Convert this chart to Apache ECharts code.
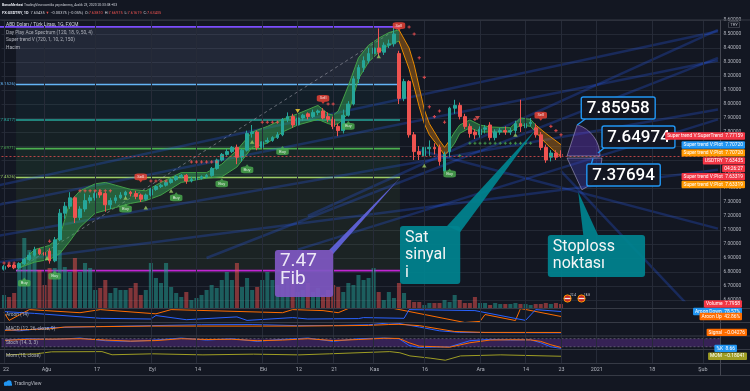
<!DOCTYPE html>
<html>
<head>
<meta charset="utf-8">
<script src="https://cdn.jsdelivr.net/npm/echarts@6.0.0/dist/echarts.min.js"></script>
<style>
html,body{margin:0;padding:0;background:#131722;overflow:hidden}
#c{width:750px;height:391px}
</style>
</head>
<body>
<div id="c"></div>
<script>
// ---------- categories: trading days ----------
function weekdays(from, to){
  const out=[]; const d=new Date(from+'T00:00:00Z'); const end=new Date(to+'T00:00:00Z');
  while(d<=end){ const w=d.getUTCDay(); if(w!==0&&w!==6) out.push(d.toISOString().slice(0,10)); d.setUTCDate(d.getUTCDate()+1); }
  return out;
}
const dates = weekdays('2020-07-22','2021-02-04');
const tickDates  = ['2020-07-22','2020-08-03','2020-08-17','2020-09-01','2020-09-14','2020-10-01','2020-10-12','2020-10-21','2020-11-02','2020-11-16','2020-12-01','2020-12-14','2020-12-23','2021-01-01','2021-01-18','2021-02-01'];
const tickLabels = ['22','Ağu','17','Eyl','14','Eki','12','21','Kas','16','Ara','14','23','2021','18','Şub'];

// ---------- price candles [open, close, low, high] ----------
const candles = [
[6.82,6.84,6.81,6.85],[6.85,6.84,6.83,6.86],[6.85,6.83,6.82,6.86],[6.83,6.86,6.82,6.87],[6.86,6.89,6.85,6.90],
[6.89,6.92,6.88,6.94],[6.92,6.96,6.91,6.98],[6.96,6.93,6.92,6.97],[6.94,6.92,6.90,6.97],[6.95,6.88,6.86,6.97],
[6.88,7.03,6.87,7.05],[7.03,7.22,7.02,7.25],[7.22,7.27,7.18,7.30],[7.27,7.33,7.25,7.37],[7.33,7.19,7.15,7.34],
[7.19,7.25,7.17,7.27],[7.25,7.31,7.23,7.36],[7.31,7.33,7.29,7.35],[7.33,7.36,7.31,7.38],[7.37,7.35,7.33,7.39],
[7.36,7.28,7.23,7.37],[7.28,7.31,7.25,7.33],[7.31,7.33,7.29,7.35],[7.33,7.35,7.32,7.37],[7.35,7.37,7.33,7.38],
[7.37,7.36,7.34,7.38],[7.36,7.34,7.32,7.38],[7.35,7.32,7.30,7.36],[7.32,7.35,7.31,7.36],[7.35,7.39,7.34,7.40],
[7.39,7.41,7.38,7.42],[7.41,7.42,7.40,7.43],[7.42,7.44,7.41,7.45],[7.44,7.46,7.43,7.47],[7.46,7.48,7.45,7.49],
[7.48,7.49,7.47,7.50],[7.49,7.45,7.43,7.50],[7.45,7.46,7.44,7.48],[7.46,7.47,7.45,7.48],[7.47,7.48,7.46,7.49],
[7.48,7.49,7.47,7.50],[7.49,7.54,7.48,7.55],[7.54,7.60,7.53,7.61],[7.60,7.64,7.59,7.65],[7.64,7.66,7.63,7.68],
[7.66,7.69,7.65,7.70],[7.69,7.62,7.57,7.71],[7.62,7.67,7.59,7.68],[7.67,7.79,7.66,7.81],[7.79,7.80,7.76,7.85],
[7.80,7.69,7.67,7.81],[7.69,7.73,7.68,7.75],[7.73,7.74,7.72,7.76],[7.74,7.76,7.73,7.77],[7.76,7.78,7.75,7.80],
[7.78,7.89,7.77,7.90],[7.89,7.91,7.87,7.94],[7.91,7.85,7.83,7.93],[7.85,7.90,7.84,7.91],[7.90,7.92,7.88,7.93],
[7.93,7.91,7.89,7.94],[7.91,7.94,7.90,7.96],[7.94,7.95,7.92,7.96],[7.95,7.90,7.89,7.97],[7.91,7.89,7.87,7.94],
[7.89,7.84,7.82,7.91],[7.84,7.81,7.77,7.86],[7.81,7.92,7.79,7.96],[7.92,8.00,7.91,8.02],[8.00,8.18,7.99,8.20],
[8.18,8.26,8.15,8.28],[8.26,8.31,8.23,8.34],[8.31,8.36,8.29,8.40],[8.36,8.40,8.33,8.44],[8.40,8.37,8.34,8.54],
[8.37,8.42,8.35,8.44],[8.42,8.43,8.40,8.46],[8.43,8.50,8.41,8.55],[8.36,8.04,8.00,8.38],[8.04,8.16,8.02,8.18],
[8.16,7.78,7.76,8.17],[7.78,7.66,7.60,7.80],[7.66,7.64,7.60,7.70],[7.63,7.69,7.58,7.72],[7.68,7.69,7.63,7.74],
[7.69,7.68,7.64,7.72],[7.69,7.59,7.56,7.71],[7.52,7.64,7.50,7.66],[7.66,7.97,7.62,7.98],[7.97,7.99,7.93,8.03],
[7.99,7.91,7.89,8.01],[7.91,7.84,7.82,7.93],[7.84,7.79,7.76,7.86],[7.80,7.78,7.75,7.82],[7.78,7.82,7.76,7.84],
[7.82,7.83,7.79,7.85],[7.85,7.76,7.74,7.87],[7.76,7.80,7.74,7.82],[7.80,7.81,7.78,7.83],[7.81,7.80,7.78,7.84],
[7.80,7.81,7.78,7.83],[7.81,7.86,7.79,7.88],[7.86,7.84,7.80,8.03],[7.83,7.86,7.81,7.88],[7.86,7.87,7.84,7.90],
[7.83,7.78,7.76,7.86],[7.78,7.69,7.67,7.80],[7.69,7.60,7.58,7.71],[7.62,7.65,7.59,7.67],[7.65,7.62,7.60,7.67],
[7.6381,7.63435,7.61619,7.66975]
];
// relative volume (bar heights)
const volumes = [13,11,15,41,70,58,55,38,23,40, 40,58,41,36,50,36,45,40,18,20, 28,15,20,18,18,20,25,13,18,45,
 30,25,45,21,15,11,16,8,10,13, 18,23,20,28,36,28,45,21,30,18, 21,28,36,28,23,33,28,25,16,18,
 25,16,20,13,18,23,21,16,25,23, 33,28,30,40,16,8,16,10,25,15, 8,6,6,3,5,5,5,8,6,13,
 8,5,5,11,5,5,3,5,4,4, 4,5,4,4,3,4,4,5,4,5,4];

// ---------- Fibonacci retracement ----------
const fibLevels = [8.551, 8.139, 7.886, 7.681, 7.475, 6.81];
const fibLineColors = ['#7c4dff','#64b5f6','#26a69a','#4caf50','#9ccc65','#c026d3'];
const fibFills = ['rgba(120,130,170,0.16)','rgba(38,166,154,0.06)','rgba(76,175,80,0.07)','rgba(76,175,80,0.11)','rgba(139,195,74,0.07)'];
const fibLabels = ['', '(8.1526)', '(7.8417)', '(7.6971)', '(7.4526)', ''];
const fibStart = 2.37, fibEnd = 78.2, fibTopStart = -1;

// ---------- ribbon (Day Play Ace Spectrum) ----------
const ribbonX   = [3,6,9,11,13,15,18,20,22,25, 28,31,35,40,43,46,49,52,55,58, 62,64,65,66,68,70,72,74,76,78, 80,81,82,83,84,86,87,88, 89,90,92,94,96,100,102,104,105, 107,110];
const ribbonUp  = [6.85,6.96,6.99,7.05,7.30,7.38,7.43,7.44,7.42,7.39, 7.38,7.44,7.51,7.51,7.57,7.67,7.80,7.84,7.89,7.93, 7.99,7.93,7.92,7.95,8.13,8.33,8.42,8.47,8.51,8.53, 8.40,8.28,8.12,7.96,7.86,7.74,7.69,7.74, 7.80,7.85,7.886,7.85,7.836,7.83,7.90,7.89,7.85, 7.79,7.71];
const ribbonLow = [6.83,6.87,6.89,6.93,7.02,7.12,7.22,7.24,7.26,7.29, 7.31,7.35,7.44,7.47,7.48,7.55,7.69,7.72,7.80,7.85, 7.89,7.86,7.85,7.86,7.93,8.18,8.30,8.37,8.42,8.45, 8.25,8.12,7.98,7.86,7.78,7.686,7.636,7.67, 7.72,7.79,7.83,7.80,7.80,7.80,7.85,7.84,7.80, 7.72,7.62];
const ribbonTrend = [[3,'g'],[78,'o'],[88,'g'],[105,'o']];

// ---------- signals ----------
const buySignals  = [[4,6.72],[10,6.77],[24,7.25],[34,7.33],[43,7.43],[48,7.53],[55,7.66],[68,7.84],[88,7.50]];
const sellSignals = [[27,7.48],[63,8.04],[78,8.56],[106,7.92]];
const upTriangles = [[8.5,6.90],[24,7.33],[28,7.26],[33,7.38],[49,7.73],[74,8.34],[83,7.56],[101,7.78]];
const yellowDown = [[58,7.95]];
const redDown = [[93.5,7.90]];
const redCrosses = [[0,6.864],[1,6.864],[2,6.864],[9,7.02],[15,7.38],[16,7.38],[17,7.38],[18,7.38],[19,7.38],[20,7.38],[21,7.38],
 [29,7.45],[30,7.45],[31,7.45],[32,7.45],[37,7.586],[38,7.586],[39,7.586],[40,7.586],[41,7.586],[42,7.586],
 [51,7.87],[52,7.87],[53,7.87],[54,7.87],[64,8.0],[65,8.0],[80,8.55],[81,8.5],[82,8.33],[83,8.19],[84,7.98],[85,7.91],[86,7.95],[87,7.87],
 [93,7.89],[108,7.84],[109,7.81],[110,7.78]];
const greenCrosses = [[90,7.63],[92,7.72],[93,7.72],[94,7.72],[95,7.72],[96,7.72],[97,7.72],[98,7.72],[99,7.72],[100,7.72],[101,7.72],[102,7.72],[103,7.72],[104,7.72]];

// ---------- drawn fan lines [i0, p0, i1, p1] ----------
const fanLines = [[-1,7.28,141,8.31],[-1,7.06,141,7.96],[-1,6.87,141,7.53],[-1,7.42,141,8.52],[58,6.96,141,7.89],[60,7.2,141,8.53],[40,6.9,141,8.33],[82,7.67,141,7.11],[110,7.52,138,6.45]];

// ---------- indicator panes (sparse points [index, value]) ----------
const aroonUp   = [[0,70],[1,15],[5,92],[15,70],[19,92],[30,62],[33,92],[55,70],[57,92],[63,85],[66,70],[68,100],[77,100],[91,0],[94,8],[95,57],[101,14],[102,100],[110,42.86]];
const aroonDown = [[0,78],[6,65],[19,30],[29,25],[30,50],[36,20],[46,40],[48,15],[57,35],[60,25],[70,28],[71,35],[79,30],[80,92],[93,85],[103,15],[105,92],[110,78.57]];
const macdLine  = [[0,0.08],[3,0.03],[9,0.17],[19,0.22],[29,0.26],[39,0.3],[49,0.31],[58,0.26],[66,0.27],[72,0.3],[76,0.38],[78,0.36],[82,0.2],[86,0.03],[90,-0.04],[98,-0.05],[110,-0.06]];
const signalLine= [[0,0.05],[9,0.12],[12,0.2],[29,0.24],[58,0.24],[72,0.27],[76,0.31],[78,0.32],[82,0.26],[89,0.0],[95,-0.04],[110,-0.043]];
const stochK = [[0,70],[5,80],[10,75],[15,85],[20,65],[25,60],[30,70],[35,85],[40,70],[45,80],[50,60],[55,75],[60,85],[65,60],[70,80],[75,85],[78,80],[80,30],[82,15],[88,20],[92,65],[96,75],[100,70],[104,72],[106,50],[108,20],[110,8.66]];
const stochD = [[0,68],[5,76],[10,77],[15,80],[20,70],[25,62],[30,66],[35,80],[40,74],[45,76],[50,65],[55,70],[60,80],[65,66],[70,74],[75,83],[78,82],[80,50],[82,25],[88,17],[92,50],[96,70],[100,72],[104,71],[106,60],[108,35],[110,15]];
const momLine = [[0,-0.06],[6,0.03],[9,0.2],[19,0.22],[21,-0.05],[29,0.03],[39,-0.06],[49,0.0],[58,-0.06],[64,0.03],[76,0.22],[78,0.12],[80,-0.15],[84,-0.34],[87,-0.52],[90,-0.15],[98,-0.06],[110,-0.18]];

// ---------- right-side value tags ----------
const tagNames  = ['Super trend V:SuperTrend','Super trend V:Plot','Super trend V:Plot','USDTRY','','Super trend V:Plot','Super trend V:Plot'];
const tagValues = [7.77159, 7.70720, 7.70720, 7.63435, 7.63435, 7.63319, 7.63319];
const tagTexts  = ['7.77159','7.70720','7.70720','7.63435','04:26:27','7.63319','7.63319'];
const tagColors = ['#f23645','#2196f3','#ff9800','#f23645','#f23645','#f23645','#ff9800'];

// ---------- annotations (data coordinates) ----------
const notes = [
  {lines:['7.47','Fib'], box:[53.5,6.957,65.0,6.621], tip:[78.2,7.471], base:[[64.2,6.957],[65.0,6.929]], fill:'rgba(126,87,194,0.93)', tail:'#5c5fd0', font:19, lh:18.5, dy:1.8, tc:'#ede7f6'},
  {lines:['Sat','sinyal','i'], box:[78.2,7.129,90.1,6.714], tip:[105.1,7.821], base:[[87.5,7.129],[90.1,7.086]], fill:'rgba(0,131,143,0.93)', tail:'rgba(0,131,143,0.93)', font:16, lh:17.5, dy:3.3, tc:'#f5f5f5'},
  {lines:['Stoploss','noktası'], box:[107.4,7.064,126.6,6.764], tip:[113.4,7.371], base:[[114.4,7.064],[117.3,7.064]], fill:'rgba(0,131,143,0.93)', tail:'rgba(0,131,143,0.93)', font:16, lh:17, dy:3.5, tc:'#f5f5f5'}
];
const priceNotes = [
  {text:'7.85958', box:[114.0,8.05,128.6,7.893], tip:[113.2,7.85], from:[114.8,7.893]},
  {text:'7.64974', box:[118.1,7.843,132.5,7.686], tip:[117.3,7.65], from:[118.5,7.686]},
  {text:'7.37694', box:[115.1,7.571,129.6,7.414], tip:[116.3,7.61], from:[116.0,7.571]}
];
const wedges = [
  {c:[111.2,7.629], e:[117.7,7.629], a:[-72,0], fill:'rgba(94,53,177,0.45)'},
  {c:[111.2,7.614], e:[118.1,7.614], a:[0,65], fill:'rgba(63,60,170,0.38)'}
];

// =====================================================================
const chart = echarts.init(document.getElementById('c'));
const N = dates.length;
const L = 1.5, R = 29.5;
const FONT = 'Roboto';
const tickMap = new Map(tickDates.map((d,i)=>[d,tickLabels[i]]));

const grids = [
  {left:L, right:R, top:20, height:343.5},
  {left:L, right:R, top:20, height:280},
  {left:L, right:R, top:20, height:288},
  {left:L, right:R, top:308.5, height:14},
  {left:L, right:R, top:322.5, height:13.5},
  {left:L, right:R, top:336, height:13.5},
  {left:L, right:R, top:349.5, height:14}
];
const xAxes = [];
for (let g=0; g<7; g++) xAxes.push({type:'category', gridIndex:g, data:dates, boundaryGap:true,
  axisLine:{show:false}, axisTick:{show:false}, splitLine:{show:false}, axisLabel:{show:false}});
xAxes[6].axisLabel = {show:true, interval:(i,v)=>tickMap.has(v), formatter:(v)=>tickMap.get(v)||'',
  color:'#b2b5be', fontSize:5.4, fontFamily:FONT, margin:4};
xAxes.push({type:'value', gridIndex:1, min:-0.5, max:N-0.5, show:false}); // 7
xAxes.push({type:'value', gridIndex:5, min:-0.5, max:N-0.5, show:false}); // 8

const yAxes = [
  {type:'value', gridIndex:0, min:0, max:1, show:false},
  {type:'value', gridIndex:1, position:'right', min:6.6, max:8.6, interval:0.1,
    axisLine:{show:false}, axisTick:{show:false},
    axisLabel:{formatter:v=>v.toFixed(5), color:'#b2b5be', fontSize:4.9, fontFamily:FONT, margin:3},
    splitLine:{lineStyle:{color:'#242935', width:1}}},
  {type:'value', gridIndex:2, min:0, max:288, show:false},
  {type:'value', gridIndex:3, min:0, max:100, show:false},
  {type:'value', gridIndex:4, min:-0.2, max:0.4, show:false},
  {type:'value', gridIndex:5, min:0, max:100, show:false},
  {type:'value', gridIndex:6, min:-0.8, max:0.4, show:false}
];

const S = [];
// vertical grid lines at tick dates
S.push({type:'line', xAxisIndex:0, yAxisIndex:0, data:[[0,0.5]], symbol:'none', lineStyle:{opacity:0}, silent:true, z:0.5,
  markLine:{silent:true, symbol:'none', label:{show:false}, lineStyle:{color:'#262b38', width:1, type:'solid'},
    data: tickDates.map(d=>({xAxis:d}))}});

// fib bands & lines
S.push({type:'custom', xAxisIndex:7, yAxisIndex:1, z:1, silent:true,
  data: fibLevels.map((v,k)=>[k,v]),
  renderItem:(params, api)=>{
    const k = api.value(0);
    const s = api.coord([fibStart, fibLevels[k]]);
    const e = api.coord([fibEnd, fibLevels[k]]);
    const s0 = api.coord([k===0?fibTopStart:fibStart, fibLevels[k]]);
    const ch = [];
    if (k < fibLevels.length-1){
      const yb = api.coord([fibEnd, fibLevels[k+1]])[1];
      ch.push({type:'rect', shape:{x:s[0], y:s[1], width:e[0]-s[0], height:yb-s[1]}, style:{fill:fibFills[k]}});
    }
    ch.push({type:'line', shape:{x1:s0[0], y1:s[1], x2:e[0], y2:s[1]}, style:{stroke:fibLineColors[k], lineWidth:1.6}});
    return {type:'group', children:ch};
  }});
// fib trend (dashed diagonal)
S.push({type:'line', xAxisIndex:7, yAxisIndex:1, z:1.2, silent:true, symbol:'none',
  data:[[fibStart, fibLevels[5]],[fibEnd, fibLevels[0]]], lineStyle:{color:'rgba(170,170,180,0.55)', width:1, type:[3,3]}});
// fan lines
fanLines.forEach(f=>S.push({type:'line', xAxisIndex:7, yAxisIndex:1, z:1.3, silent:true, symbol:'none',
  data:[[f[0],f[1]],[f[2],f[3]]], lineStyle:{color:'rgba(41,98,255,0.26)', width:2.5}}));

// volume
S.push({type:'bar', xAxisIndex:2, yAxisIndex:2, z:2, silent:true, barWidth:'80%',
  data: volumes.map((v,i)=>({value:v, itemStyle:{color: candles[i][1]>=candles[i][0] ? 'rgba(38,166,154,0.5)' : 'rgba(239,83,80,0.5)'}}))});

// ribbon runs
const ribbonRuns = ribbonTrend.map((t,c)=>{
  const endX = c+1<ribbonTrend.length ? ribbonTrend[c+1][0] : Infinity;
  const idxs = ribbonX.map((x,i)=>i).filter(i=>ribbonX[i]>=t[0] && ribbonX[i]<=endX);
  return {idxs, col:t[1]};
});
S.push({type:'custom', xAxisIndex:7, yAxisIndex:1, z:3, silent:true,
  data: ribbonRuns.map((r,k)=>[k, 7.5]),
  renderItem:(params, api)=>{
    const run = ribbonRuns[api.value(0)];
    const up = run.idxs.map(i=>api.coord([ribbonX[i], ribbonUp[i]]));
    const lo = run.idxs.map(i=>api.coord([ribbonX[i], ribbonLow[i]]));
    const green = run.col==='g';
    const fill = green ? 'rgba(56,170,90,0.45)' : 'rgba(200,120,20,0.42)';
    const stroke = green ? '#43a047' : '#e68a00';
    return {type:'group', children:[
      {type:'polygon', shape:{points: up.concat(lo.slice().reverse())}, style:{fill}},
      {type:'polyline', shape:{points: up}, style:{stroke, lineWidth:1, fill:null}},
      {type:'polyline', shape:{points: lo}, style:{stroke, lineWidth:1, fill:null}}
    ]};
  }});

// candles
S.push({type:'candlestick', xAxisIndex:1, yAxisIndex:1, z:4, silent:true, barWidth:'64%', data:candles,
  itemStyle:{color:'#26a69a', color0:'#ef5350', borderColor:'#26a69a', borderColor0:'#ef5350', borderWidth:1},
  markLine:{silent:true, symbol:'none', label:{show:false}, lineStyle:{color:'#ef5350', type:[2,2], width:1, opacity:0.75},
    data:[{yAxis:candles[candles.length-1][1]}]}});

// markers
const crossPath = 'path://M1,0H2V1H3V2H2V3H1V2H0V1H1Z';
S.push({type:'scatter', xAxisIndex:7, yAxisIndex:1, z:5, silent:true, data:redCrosses, symbol:crossPath, symbolSize:3.2, itemStyle:{color:'#ff5252'}});
S.push({type:'scatter', xAxisIndex:7, yAxisIndex:1, z:5, silent:true, data:greenCrosses, symbol:crossPath, symbolSize:3, itemStyle:{color:'#4caf50'}});
S.push({type:'scatter', xAxisIndex:7, yAxisIndex:1, z:5, silent:true, data:upTriangles, symbol:'triangle', symbolSize:[4.5,3.8], itemStyle:{color:'#9ccc65'}});
S.push({type:'scatter', xAxisIndex:7, yAxisIndex:1, z:5, silent:true, data:yellowDown, symbol:'triangle', symbolRotate:180, symbolSize:[5,4], itemStyle:{color:'#fdd835'}});
S.push({type:'scatter', xAxisIndex:7, yAxisIndex:1, z:5, silent:true, data:redDown, symbol:'triangle', symbolRotate:180, symbolSize:[5,4], itemStyle:{color:'#ef5350'}});
S.push({type:'scatter', xAxisIndex:7, yAxisIndex:1, z:6, silent:true, data:buySignals, symbol:'triangle', symbolSize:[4,2.6], symbolOffset:[0,-4.3], itemStyle:{color:'#4caf50'}});
S.push({type:'scatter', xAxisIndex:7, yAxisIndex:1, z:6, silent:true, data:buySignals, symbol:'roundRect', symbolSize:[12.5,6.8], itemStyle:{color:'#4caf50'},
  label:{show:true, position:'inside', formatter:'Buy', color:'#ffffff', fontSize:4.2, fontFamily:FONT}});
S.push({type:'scatter', xAxisIndex:7, yAxisIndex:1, z:6, silent:true, data:sellSignals, symbol:'triangle', symbolRotate:180, symbolSize:[4,2.6], symbolOffset:[0,4.3], itemStyle:{color:'#f44336'}});
S.push({type:'scatter', xAxisIndex:7, yAxisIndex:1, z:6, silent:true, data:sellSignals, symbol:'roundRect', symbolSize:[12.5,6.8], itemStyle:{color:'#f44336'},
  label:{show:true, position:'inside', formatter:'Sell', color:'#ffffff', fontSize:4.2, fontFamily:FONT}});

// panes
const paneLine = (xi, yi, data, color) => ({type:'line', xAxisIndex:xi, yAxisIndex:yi, data, symbol:'none', silent:true, z:3, lineStyle:{color, width:1}});
S.push(paneLine(3,3,aroonUp,'#ff6d00'));
S.push(paneLine(3,3,aroonDown,'#2962ff'));
S.push(paneLine(4,4,macdLine,'#2962ff'));
S.push(paneLine(4,4,signalLine,'#ff6d00'));
S.push({type:'custom', xAxisIndex:8, yAxisIndex:5, z:1, silent:true, data:[[0,50]],
  renderItem:(params, api)=>{
    const a = api.coord([-0.5,80]), b = api.coord([N-0.5,20]);
    return {type:'group', children:[
      {type:'rect', shape:{x:a[0], y:a[1], width:b[0]-a[0], height:b[1]-a[1]}, style:{fill:'rgba(126,58,190,0.33)'}},
      {type:'line', shape:{x1:a[0], y1:a[1], x2:b[0], y2:a[1]}, style:{stroke:'rgba(170,170,180,0.5)', lineWidth:0.8, lineDash:[2,2]}},
      {type:'line', shape:{x1:a[0], y1:b[1], x2:b[0], y2:b[1]}, style:{stroke:'rgba(170,170,180,0.5)', lineWidth:0.8, lineDash:[2,2]}}
    ]};
  }});
S.push(paneLine(5,5,stochK,'#2962ff'));
S.push(paneLine(5,5,stochD,'#ff6d00'));
S.push(paneLine(6,6,momLine,'#9e9d24'));

chart.setOption({animation:false, backgroundColor:'#131722', grid:grids, xAxis:xAxes, yAxis:yAxes, series:S});

// ---------------- graphic overlays ----------------
const P = (i,p)=>chart.convertToPixel({xAxisIndex:7, yAxisIndex:1}, [i,p]);
const els = [];
const T = (x,y,text,style,z)=>({type:'text', x, y, z:z||100, silent:true,
  style:Object.assign({text, fill:'#d1d4dc', font:'4.8px '+FONT, verticalAlign:'middle', align:'left'}, style||{})});

// header
els.push(T(2,5.5,'{b|BorsaMerkezi} TradingView.com\'da yayınlanmış, Aralık 23, 2020 20:33:38 +03',
  {font:'3.4px '+FONT, rich:{b:{fontWeight:'bold', fontSize:3.4, fontFamily:FONT, fill:'#e0e3eb'}}}));
els.push(T(2,13.5,'{w|FX:USDTRY, 1D}  7.63435 {r|▼} −0.00375 (−0.05%)  O:{r|7.63810}  H:{r|7.66975}  L:{r|7.61619}  C:{r|7.63435}',
  {font:'3.9px '+FONT, rich:{w:{fontWeight:'bold', fontSize:3.9, fontFamily:FONT, fill:'#e0e3eb'}, r:{fontSize:3.9, fontFamily:FONT, fill:'#ef5350'}}}));
// legends
els.push(T(6,25,'ABD Doları / Türk Lirası, 1G, FXCM',{fill:'#d1d4dc'}));
els.push(T(6,32.5,'Day Play Ace Spectrum (120, 18, 9, 50, 4)',{fill:'#b2b5be'}));
els.push(T(6,40,'Super trend V (720, 1, 10, 2, 150)',{fill:'#b2b5be'}));
els.push(T(6,47.5,'Hacim',{fill:'#b2b5be'}));
els.push(T(6,315,'Aroon (14)',{fill:'#b2b5be'}));
els.push(T(6,329,'MACD (12, 26, close, 9)',{fill:'#b2b5be'}));
els.push(T(6,342.5,'Stoch (14, 3, 3)',{fill:'#b2b5be'}));
els.push(T(6,356,'Mom (10, close)',{fill:'#b2b5be'}));
// fib labels
fibLevels.forEach((v,k)=>{ if (fibLabels[k]) els.push(T(15.5, P(0,v)[1]-0.5, fibLabels[k], {align:'right', fill:fibLineColors[k], font:'4.4px '+FONT}, 60)); });

// separators and axis border
[20, 308.5, 322.5, 336, 349.5, 363.5, 375.5].forEach(y=>els.push({type:'line', z:50, silent:true, shape:{x1:0,y1:y,x2:750,y2:y}, style:{stroke:'#363a45', lineWidth:1}}));
els.push({type:'line', z:50, silent:true, shape:{x1:720.5,y1:20,x2:720.5,y2:375.5}, style:{stroke:'#434651', lineWidth:1}});
els.push(T(734,24.8,'TRY',{align:'center', font:'4.3px '+FONT, fill:'#b2b5be', borderColor:'#5d606b', borderWidth:0.6, padding:[0.8,1.5,0.4,1.5], borderRadius:1, backgroundColor:'#131722'},105));

// wedges
wedges.forEach(w=>{
  const c = P(w.c[0], w.c[1]), e = P(w.e[0], w.e[1]);
  const r = Math.hypot(e[0]-c[0], e[1]-c[1]);
  els.push({type:'sector', z:80, silent:true, shape:{cx:c[0], cy:c[1], r0:0, r, startAngle:w.a[0]*Math.PI/180, endAngle:w.a[1]*Math.PI/180, clockwise:true},
    style:{fill:w.fill, stroke:'rgba(190,180,220,0.65)', lineWidth:0.8}});
});
// callouts
notes.forEach(n=>{
  const a = P(n.box[0], n.box[1]), b = P(n.box[2], n.box[3]), t = P(n.tip[0], n.tip[1]);
  const b1 = P(n.base[0][0], n.base[0][1]), b2 = P(n.base[1][0], n.base[1][1]);
  els.push({type:'polygon', z:90, silent:true, shape:{points:[b1,t,b2]}, style:{fill:n.tail}});
  els.push({type:'rect', z:91, silent:true, shape:{x:a[0], y:a[1], width:b[0]-a[0], height:b[1]-a[1], r:3}, style:{fill:n.fill}});
  els.push({type:'text', z:92, silent:true, x:a[0]+5, y:a[1]+n.dy,
    style:{text:n.lines.join('\n'), font:n.font+'px '+FONT, lineHeight:n.lh, fill:n.tc, verticalAlign:'top', align:'left'}});
});
priceNotes.forEach(n=>{
  const a = P(n.box[0], n.box[1]), b = P(n.box[2], n.box[3]), t = P(n.tip[0], n.tip[1]), f = P(n.from[0], n.from[1]);
  els.push({type:'line', z:93, silent:true, shape:{x1:f[0], y1:f[1], x2:t[0], y2:t[1]}, style:{stroke:'#2196f3', lineWidth:1.4}});
  els.push({type:'rect', z:94, silent:true, shape:{x:a[0], y:a[1], width:b[0]-a[0], height:b[1]-a[1], r:2}, style:{fill:'rgba(19,23,34,0.92)', stroke:'#2196f3', lineWidth:1.4}});
  els.push({type:'text', z:95, silent:true, x:(a[0]+b[0])/2, y:(a[1]+b[1])/2+0.5,
    style:{text:n.text, font:'500 17px '+FONT, fill:'#ffffff', align:'center', verticalAlign:'middle'}});
});

// price tags
const tag = (xr, y, text, bg, z)=>({type:'text', x:xr, y, z:z||110, silent:true,
  style:{text, fill:'#ffffff', font:'4.9px '+FONT, align:'right', verticalAlign:'middle', backgroundColor:bg, padding:[1.3,2,1,2], borderRadius:1}});
let lastY = -Infinity;
tagValues.forEach((v,k)=>{
  let y = P(110, v)[1];
  if (y < lastY + 7.9) y = lastY + 7.9;
  lastY = y;
  const txt = tagNames[k] ? tagNames[k]+'  '+tagTexts[k] : tagTexts[k];
  els.push(tag(745, y, txt, tagColors[k]));
});
// pane value tags
const py = (g, v)=>chart.convertToPixel({xAxisIndex:g, yAxisIndex:g}, [110, v])[1];
els.push(tag(742, py(3, 78.57), 'Aroon Down  78.57%', '#2196f3', 108));
els.push(tag(742, py(2, volumes[110]), 'Volume  7.7958', '#f23645', 111));
els.push(tag(742, py(3, 42.86), 'Aroon Up  42.86%', '#ff6d00', 112));
els.push(tag(747, py(4, -0.04276), 'Signal  −0.04276', '#ff6d00'));
els.push(tag(737, py(5, 8.66), '%K  8.66', '#2196f3'));
els.push(tag(747, py(6, -0.18041), 'MOM  −0.18041', '#9e9d24'));

// event flags
[[567.5,298.5,'22.4'],[581.5,298.5,'18.8']].forEach(f=>{
  els.push({type:'circle', z:70, silent:true, shape:{cx:f[0], cy:f[1], r:3.6}, style:{fill:'#c62828', stroke:'#ff9800', lineWidth:1}});
  els.push({type:'rect', z:71, silent:true, shape:{x:f[0]-3, y:f[1]-0.6, width:6, height:1.2}, style:{fill:'#eeeeee'}});
  els.push(T(f[0]+2.5, f[1]-3.5, f[2], {font:'3px '+FONT, fill:'#d1d4dc'}, 72));
});

// TradingView logo
els.push({type:'circle', z:100, silent:true, shape:{cx:6, cy:383.6, r:2.1}, style:{fill:'#2196f3'}});
els.push({type:'circle', z:100, silent:true, shape:{cx:9, cy:382.8, r:2.6}, style:{fill:'#2196f3'}});
els.push({type:'rect', z:100, silent:true, shape:{x:4, y:383.6, width:8, height:2.1}, style:{fill:'#2196f3'}});
els.push(T(14, 383.5, 'TradingView', {font:'5px '+FONT, fill:'#b2b5be'}));

chart.setOption({graphic: els});
</script>
</body>
</html>
